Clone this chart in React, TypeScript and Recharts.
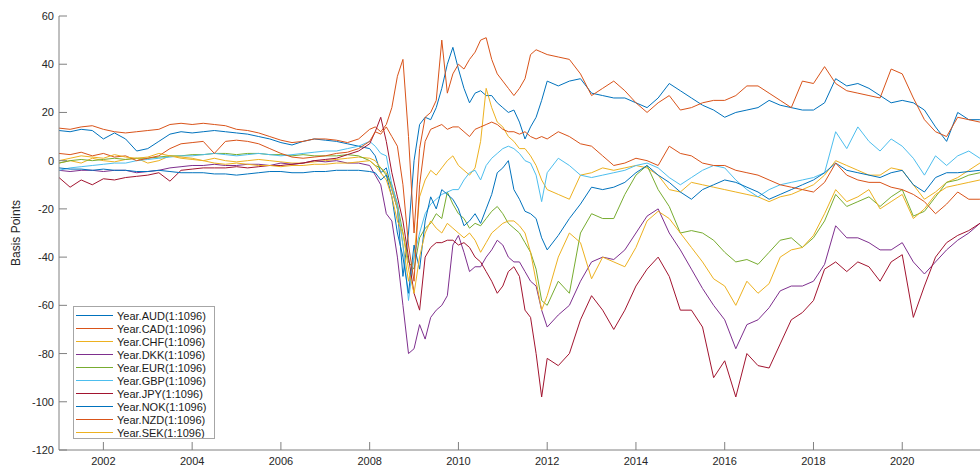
import React from 'react';
import { LineChart, Line, XAxis, YAxis, Legend, Label } from 'recharts';

const years = [
  2001, 2001.25, 2001.5, 2001.75, 2002, 2002.25, 2002.5, 2002.75, 2003, 2003.25, 2003.5, 2003.75,
  2004, 2004.25, 2004.5, 2004.75, 2005, 2005.25, 2005.5, 2005.75, 2006, 2006.25, 2006.5, 2006.75,
  2007, 2007.25, 2007.5, 2007.75, 2008,
  2008.125, 2008.25, 2008.375, 2008.5, 2008.625, 2008.75, 2008.875, 2009,
  2009.125, 2009.25, 2009.375, 2009.5, 2009.625, 2009.75, 2009.875, 2010,
  2010.125, 2010.25, 2010.375, 2010.5, 2010.625, 2010.75, 2010.875, 2011,
  2011.125, 2011.25, 2011.375, 2011.5, 2011.625, 2011.75, 2011.875, 2012,
  2012.25, 2012.5, 2012.75, 2013, 2013.25, 2013.5, 2013.75, 2014, 2014.25, 2014.5, 2014.75, 2015,
  2015.25, 2015.5, 2015.75, 2016, 2016.25, 2016.5, 2016.75, 2017, 2017.25, 2017.5, 2017.75, 2018,
  2018.25, 2018.5, 2018.75, 2019, 2019.25, 2019.5, 2019.75, 2020, 2020.25, 2020.5, 2020.75, 2021,
  2021.25, 2021.5, 2021.75, 2022,
];

const AUD = [
  12.5, 12, 13, 12.5, 9, 11.5, 9, 4, 5, 8, 11, 12, 11.5, 12, 12.5, 12, 11.5, 11, 10, 9, 7.5, 6.5, 8, 9, 8.5, 8, 7, 6, 5,
  2, -5, -3, -12, -20, -48, -30, 0, 15, 18, 17, 22, 30, 40, 47, 38, 30, 24, 28, 29, 27, 27, 24, 22, 20, 21, 16, 9, 14, 18, 25, 33,
  31, 33, 34, 28, 27, 26, 26, 24, 22, 26, 32, 29, 26, 23, 21, 18, 20, 21, 22, 25, 23, 22, 21, 21, 24, 34, 31, 32, 30, 27, 24, 25, 24, 21, 14, 8, 20, 17, 17, 17,
];
const CAD = [
  13.5, 13, 14, 14.5, 13, 12, 11.5, 12, 12.5, 13, 15, 15.5, 15, 15.5, 15, 14.5, 13, 12.5, 11.5, 10, 8.5, 7.5, 8, 9, 9, 8.5, 7.5, 9, 13,
  14, 12, 15, 22, 35, 42, 10, -30, 5, 18, 20, 25, 50, 28, 36, 40, 38, 42, 45, 50, 51, 42, 36, 33, 30, 27, 30, 34, 44, 46, 45, 44,
  43, 42, 36, 27, 30, 33, 29, 24, 20, 24, 27, 21, 22, 24, 25, 25, 27, 31, 31, 28, 25, 22, 33, 32, 39, 32, 29, 28, 27, 26, 38, 36, 26, 17, 12, 10, 18, 17, 16, 15,
];
const CHF = [
  -1, 0, -1, 1, 0, -0.5, 0.5, 1, -1, 0, 2, 1, 0.5, 0, 1, 0, -0.5, 0, 0.5, 0, -0.5, -1, -1, -0.5, 0, 0.5, 1, 1.5, 1,
  0, -3, -5, -12, -20, -35, -50, -40, -15, -8, -4, -6, -3, 0, 2, -2, -4, -6, -3, 8, 30, 22, 16, 14, 10, 8, 5, 5, 2, -2, -8, -12,
  -14, -16, -6, -5, -3, -4, -3, -2, -3, -6, -12, -13, -9, -10, -11, -12, -13, -14, -15, -17, -15, -14, -12, -10, -6, 0, -2, -4, -6, -6, -3, -4, -10, -16, -13, -9, -7, -4, -1, -1,
];
const DKK = [
  -4, -4.5, -4, -4, -4.5, -4, -4, -5, -4.5, -4, -3, -2.5, -2, -2, -1.5, -2, -2, -1.5, -1.5, -2, -1, -1.5, -1, 0, -0.5, 0, -1, -1, -2,
  -6, -10, -22, -25, -40, -60, -80, -78, -68, -74, -65, -62, -60, -56, -35, -31, -38, -46, -44, -44, -40, -37, -33, -35, -40, -42, -42, -46, -50, -52, -62, -69,
  -64, -60, -50, -42, -40, -41, -37, -30, -23, -20, -30, -37, -45, -53, -60, -66, -78, -68, -66, -61, -54, -52, -52, -50, -43, -27, -32, -32, -34, -37, -37, -34, -42, -47, -42, -37, -33, -30, -26, -25,
];
const EUR = [
  -1, 0, 0.5, 0, 0.5, 1, 0.5, 1, 1, 1.5, 2, 2, 2.5, 2.5, 3, 3, 2.5, 3, 3, 2.5, 2.5, 2, 2.5, 2, 2, 2, 2.5, 2, 0,
  -2, -3, -6, -10, -18, -30, -42, -45, -32, -28, -26, -22, -24, -13, -18, -22, -24, -28, -26, -27, -24, -21, -19, -22, -26, -28, -30, -34, -38, -45, -58, -60,
  -50, -55, -30, -22, -24, -24, -14, -6, -2, -12, -19, -30, -29, -30, -33, -38, -42, -41, -43, -38, -33, -32, -36, -32, -25, -14, -19, -17, -15, -19, -15, -12, -23, -21, -15, -9, -8, -6, -5, -5,
];
const GBP = [
  -4, -3, -2.5, -2, -1.5, -1, -1, 0, 0.5, 1, 1.5, 2, 2, 2.5, 3, 2.5, 2, 2.5, 3, 2.5, 2, 2.5, 3, 3.5, 4, 4, 5, 6, 8,
  6, 3, 2, -10, -18, -35, -58, -40, -30, -22, -18, -16, -14, -13, -12, -12, -8, -5, -4, -8, -2, 1, 3, 5, 6, 5, 3, 0, -1, -6, -17, -5,
  1, -2, -6, -7, -6, -5, -4, -2, -1, -3, -7, -10, -7, -4, -2, -3, -8, -12, -15, -12, -10, -9, -8, -7, -5, 12, 5, 14, 8, 4, 9, 6, 1, -6, 2, -2, 2, 4, 1, 1,
];
const JPY = [
  -7, -11, -8, -10, -7.5, -8, -7, -6.5, -6, -5, -8.5, -4, -3.5, -3, -3, -3, -2.5, -3, -2.5, -2, -2, -1.5, -1, 0, 0.5, 1, 2.5, 4, 7,
  12, 18, 8, -5, -15, -25, -40, -55, -62, -40, -36, -34, -34, -33, -33, -35, -34, -36, -40, -42, -46, -50, -55, -52, -46, -44, -48, -62, -65, -80, -98, -82,
  -85, -80, -66, -56, -62, -70, -62, -52, -45, -40, -48, -62, -62, -69, -90, -83, -98, -80, -85, -86, -76, -66, -63, -58, -45, -42, -46, -42, -44, -50, -42, -39, -65, -52, -40, -34, -31, -29, -26, -25,
];
const NOK = [
  -3, -3.5, -3.5, -4, -3.5, -4, -4, -4.5, -4.5, -4, -4.5, -5, -5, -5, -5.5, -5.5, -6, -5.5, -5, -4.5, -4.5, -5, -5, -4.5, -4.5, -4, -4, -4, -4.5,
  -5, -8, -6, -15, -30, -40, -55, -35, -45, -25, -15, -20, -12, -14, -16, -20, -27, -25, -22, -26, -20, -14, -5, -3, 0, -12, -16, -21, -22, -24, -32, -37,
  -31, -24, -18, -11, -12, -11, -9, -5, -2, -6, -9, -13, -16, -12, -10, -8, -9, -11, -13, -16, -14, -12, -10, -8, -5, -1, -4, -5, -6, -7, -5, -4, -10, -13, -7, -5, -5, -4.5, -4, -4,
];
const NZD = [
  3, 2.5, 3.5, 2, 3, 1.5, 2, 0, 1, 2, 5, 7, 7.5, 8, 3, 8, 8.5, 8, 7, 5, 3, 1.5, 1, 1.5, 2, 3, 3.5, 5, 8,
  12, 11, 14, 10, 6, -10, -35, -50, -10, 8, 13, 14, 15, 13, 14, 14, 12, 10, 13, 14, 15, 16, 15, 13, 12, 12, 11, 12, 10, 9, 10, 9,
  12, 10, 7, 6, 2, -2, -1, 1, 0, -2, 6, 3, 2, -1, -2, -2, -4, -5, -6, -8, -10, -11, -12, -13, -9, -1, -6, -8, -9, -9, -11, -12, -14, -17, -22, -18, -13, -16, -16, -17,
];
const SEK = [
  0, 1, 2, 1.5, 1, 2.5, 1.5, 1, 1.5, 3, 2, 1.5, 1, 0, -1, -1.5, -1, -1.5, -2, -2, -2.5, -2, -2, -1.5, -1.5, -1, -1, -0.5, 0,
  -2, -5, -8, -15, -25, -30, -45, -55, -40, -30, -25, -28, -30, -26, -28, -30, -32, -30, -33, -38, -34, -30, -28, -26, -25, -25, -27, -30, -38, -50, -62, -56,
  -40, -30, -34, -49, -40, -42, -44, -36, -25, -21, -24, -30, -36, -42, -49, -52, -60, -50, -55, -51, -40, -37, -36, -31, -22, -12, -17, -15, -12, -20, -17, -14, -24, -20, -14, -11, -10, -9, -8, -7,
];

const seriesKeys = ['AUD', 'CAD', 'CHF', 'DKK', 'EUR', 'GBP', 'JPY', 'NOK', 'NZD', 'SEK'];
const seriesValues = [AUD, CAD, CHF, DKK, EUR, GBP, JPY, NOK, NZD, SEK];
const seriesColors = ['#0072BD', '#D95319', '#EDB120', '#7E2F8E', '#77AC30', '#4DBEEE', '#A2142F', '#0072BD', '#D95319', '#EDB120'];
const seriesLabels = seriesKeys.map((k) => `Year.${k}(1:1096)`);

const xTicks = [2002, 2004, 2006, 2008, 2010, 2012, 2014, 2016, 2018, 2020];
const yTicks = [-120, -100, -80, -60, -40, -20, 0, 20, 40, 60];

const data = years.map((year, i) => {
  const row: Record<string, number> = { year };
  seriesKeys.forEach((k, j) => {
    row[k] = seriesValues[j][i];
  });
  return row;
});

const FONT = '"Liberation Sans", Arial, Helvetica, sans-serif';
const AXIS = '#808080';
const TXT = '#262626';
const TICK_LEN = 8;

const BottomTick = (p: any) => (
  <g>
    <line x1={p.x} y1={p.y} x2={p.x} y2={p.y - TICK_LEN} stroke={AXIS} strokeWidth={1} />
    <text x={p.x} y={p.y + 15} textAnchor="middle" fontSize={11} fill={TXT} fontFamily={FONT}>
      {p.payload.value}
    </text>
  </g>
);

const TopTick = (p: any) => (
  <line x1={p.x} y1={p.y} x2={p.x} y2={p.y + TICK_LEN} stroke={AXIS} strokeWidth={1} />
);

const LeftTick = (p: any) => (
  <g>
    <line x1={p.x} y1={p.y} x2={p.x + TICK_LEN} y2={p.y} stroke={AXIS} strokeWidth={1} />
    <text x={p.x - 5} y={p.y + 4} textAnchor="end" fontSize={11} fill={TXT} fontFamily={FONT}>
      {p.payload.value}
    </text>
  </g>
);

const YLabel = (p: any) => {
  const vb = p.viewBox || { x: 0, y: 16, width: 59, height: 434 };
  const cx = vb.x + 16;
  const cy = vb.y + vb.height / 2;
  return (
    <text
      x={cx}
      y={cy}
      transform={`rotate(-90, ${cx}, ${cy})`}
      textAnchor="middle"
      dominantBaseline="central"
      fontSize={12}
      fill={TXT}
      fontFamily={FONT}
    >
      Basis Points
    </text>
  );
};

const LegendBox = () => (
  <div
    style={{
      width: 142,
      height: 133,
      boxSizing: 'border-box',
      border: '1px solid #a6a6a6',
      background: '#ffffff',
    }}
  >
    <svg width={140} height={131} style={{ display: 'block' }}>
      {seriesLabels.map((label, i) => {
        const y = Math.round(7.5 + i * 13.05) + 0.5;
        return (
          <g key={label}>
            <line x1={2} x2={39} y1={y} y2={y} stroke={seriesColors[i]} strokeWidth={1} />
            <text x={43} y={y + 4} fontSize={11} fill="#1a1a1a" fontFamily={FONT}>
              {label}
            </text>
          </g>
        );
      })}
    </svg>
  </div>
);

export default function App() {
  return (
    <div
      style={{
        position: 'absolute',
        left: 0,
        top: 0,
        width: 980,
        height: 469,
        overflow: 'hidden',
        background: '#ffffff',
      }}
    >
      <LineChart width={1000} height={469} data={data} margin={{ top: 16, right: 9, bottom: 0, left: 0 }}>
        <XAxis
          xAxisId="b"
          dataKey="year"
          type="number"
          domain={[2001, 2022]}
          ticks={xTicks}
          interval={0}
          height={19}
          tickSize={0}
          tickMargin={0}
          tickLine={false}
          axisLine={{ stroke: AXIS }}
          tick={(p: any) => <BottomTick {...p} />}
          allowDataOverflow
        />
        <XAxis
          xAxisId="t"
          orientation="top"
          dataKey="year"
          type="number"
          domain={[2001, 2022]}
          ticks={xTicks}
          interval={0}
          height={0}
          tickSize={0}
          tickMargin={0}
          tickLine={false}
          axisLine={{ stroke: AXIS }}
          tick={(p: any) => <TopTick {...p} />}
          allowDataOverflow
        />
        <YAxis
          yAxisId="l"
          type="number"
          domain={[-120, 60]}
          ticks={yTicks}
          interval={0}
          width={59}
          tickSize={0}
          tickMargin={0}
          tickLine={false}
          axisLine={{ stroke: AXIS }}
          tick={(p: any) => <LeftTick {...p} />}
          allowDataOverflow
        >
          <Label content={(p: any) => <YLabel {...p} />} />
        </YAxis>
        {seriesKeys.map((k, i) => (
          <Line
            key={k}
            xAxisId="b"
            yAxisId="l"
            type="linear"
            dataKey={k}
            name={seriesLabels[i]}
            stroke={seriesColors[i]}
            strokeWidth={1}
            dot={false}
            activeDot={false}
            isAnimationActive={false}
          />
        ))}
        <Legend
          layout="vertical"
          align="center"
          verticalAlign="middle"
          wrapperStyle={{ left: 73, top: 306, width: 142, height: 133 }}
          content={() => <LegendBox />}
        />
      </LineChart>
    </div>
  );
}
